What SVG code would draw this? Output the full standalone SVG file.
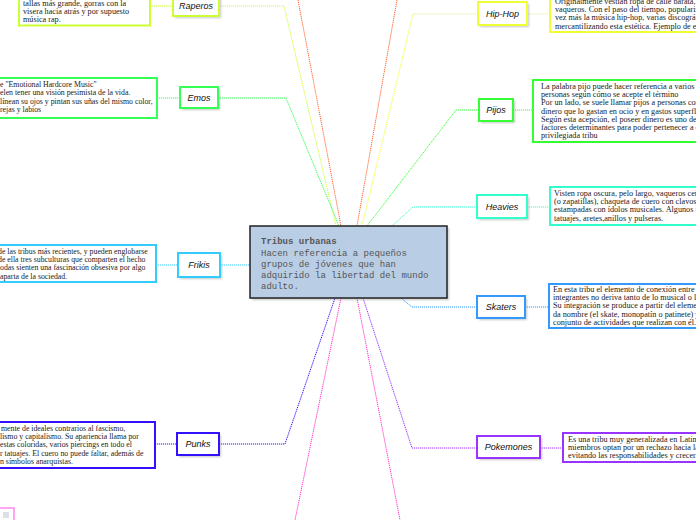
<svg xmlns="http://www.w3.org/2000/svg" width="696" height="520" viewBox="0 0 696 520">
<style>
.conn{fill:none;stroke-width:1;stroke-dasharray:1.2 0.8}
.node rect.b{fill:#fff;stroke-width:2}
.node text{font-family:"Liberation Sans",Arial,sans-serif;font-size:9px;font-style:italic;fill:#111;text-anchor:middle}
.desc rect{fill:#fff;stroke-width:2}
.desc text{font-family:"Liberation Serif","Times New Roman",serif;font-size:8.2px;fill:#222}
.desc.l text{font-size:7.8px}
.sh{fill:#9a9a9a;opacity:.55}
.mono{font-family:"Liberation Mono","Courier New",monospace;font-size:9px;fill:#555}
</style>
<defs>
<filter id="blur" x="-20%" y="-20%" width="140%" height="140%"><feGaussianBlur stdDeviation="1"/></filter>
</defs>
<rect width="696" height="520" fill="#fff"/>

<g id="connectors">
<polyline class="conn" stroke="#ccff33" points="150,6 173,6"/>
<polyline class="conn" stroke="#ccff33" points="219,6 284,6 336,226"/>
<polyline class="conn" stroke="#ff6633" points="298,0 341,226"/>
<polyline class="conn" stroke="#ff6633" points="397,0 357,226"/>
<polyline class="conn" stroke="#eeff33" points="527,14 550,14"/>
<polyline class="conn" stroke="#eeff33" points="478,14 413,14 362,226"/>
<polyline class="conn" stroke="#33ff55" points="157,98 180,98"/>
<polyline class="conn" stroke="#33ff55" points="218,98 286,98 339,226"/>
<polyline class="conn" stroke="#33ff33" points="513,110 533,110"/>
<polyline class="conn" stroke="#33ff33" points="479,110 456,110 367,226"/>
<polyline class="conn" stroke="#33ffcc" points="527,207 550,207"/>
<polyline class="conn" stroke="#33ffcc" points="477,207 413,207 392,226"/>
<polyline class="conn" stroke="#33ccff" points="156,265 178,265"/>
<polyline class="conn" stroke="#33ccff" points="220,265 250,265"/>
<polyline class="conn" stroke="#3399ff" points="525,307 549,307"/>
<polyline class="conn" stroke="#3399ff" points="477,307 412,307 401,298"/>
<polyline class="conn" stroke="#3311ff" points="155,444 177,444"/>
<polyline class="conn" stroke="#3311ff" points="219,444 285,444 335,298"/>
<polyline class="conn" stroke="#9933ff" points="540,448 563,448"/>
<polyline class="conn" stroke="#9933ff" points="477,448 412,448 363,298"/>
<polyline class="conn" stroke="#ff33cc" points="341,298 295,520"/>
<polyline class="conn" stroke="#ff33cc" points="357,298 400,520"/>
</g>

<g id="center">
<rect class="sh" x="252" y="228" width="197" height="72" filter="url(#blur)"/>
<rect x="250" y="226" width="197" height="72" fill="#b9cde5" stroke="#222" stroke-width="1.5"/>
<text class="mono" x="261" y="244" font-weight="bold" fill="#111">Tribus urbanas</text>
<text class="mono" x="261" y="256">Hacen referencia a pequeños</text>
<text class="mono" x="261" y="267">grupos de jóvenes que han</text>
<text class="mono" x="261" y="278">adquirido la libertad del mundo</text>
<text class="mono" x="261" y="289">adulto.</text>
</g>

<g id="raperos" class="node">
<rect class="sh" x="175" y="-3" width="46" height="21" filter="url(#blur)"/>
<rect class="b" x="173" y="-5" width="46" height="21" stroke="#ccff33"/>
<text x="196" y="9">Raperos</text>
</g>
<g id="raperos-desc" class="desc">
<rect x="19" y="-20" width="131" height="45.5" stroke="#ccff33"/>
<text x="23" y="5.5">tallas más grande, gorras con la</text>
<text x="23" y="13.8">visera hacia atrás y por supuesto</text>
<text x="23" y="22">música rap.</text>
</g>

<g id="hiphop" class="node">
<rect class="sh" x="480" y="4" width="49" height="23" filter="url(#blur)"/>
<rect class="b" x="478" y="2" width="49" height="23" stroke="#eeff33"/>
<text x="502.5" y="17">Hip-Hop</text>
</g>
<g id="hiphop-desc" class="desc">
<rect x="550" y="-20" width="160" height="52" stroke="#eeff33"/>
<text x="555" y="4">Originalmente vestían ropa de calle barata, pa</text>
<text x="555" y="12.2">vaqueros. Con el paso del tiempo, popularizár</text>
<text x="555" y="20.4">vez más la música hip-hop, varias discográfica</text>
<text x="555" y="28.6">mercantilizando esta estética. Ejemplo de ello</text>
</g>

<g id="emos" class="node">
<rect class="sh" x="182" y="89" width="38" height="21" filter="url(#blur)"/>
<rect class="b" x="180" y="87" width="38" height="21" stroke="#33ff55"/>
<text x="199" y="101">Emos</text>
</g>
<g id="emos-desc" class="desc l">
<rect x="-10" y="78" width="167" height="40" stroke="#33ff55"/>
<text x="0" y="87">e "Emotional Hardcore Music"</text>
<text x="0" y="95.3">elen tener una visión pesimista de la vida.</text>
<text x="0" y="103.6">línean su ojos y pintan sus uñas del mismo color,</text>
<text x="0" y="111.9">rejas y labios</text>
</g>

<g id="pijos" class="node">
<rect class="sh" x="481" y="101" width="34" height="22" filter="url(#blur)"/>
<rect class="b" x="479" y="99" width="34" height="22" stroke="#33ff33"/>
<text x="496" y="113">Pijos</text>
</g>
<g id="pijos-desc" class="desc">
<rect x="533" y="80" width="180" height="62" stroke="#33ff33"/>
<text x="541" y="89">La palabra pijo puede hacer referencia  a  varios ti</text>
<text x="541" y="97.2">personas según cómo se acepte el término</text>
<text x="541" y="105.4">Por un lado, se suele llamar pijos a  personas con m</text>
<text x="541" y="113.6">dinero que lo gastan en ocio y en gastos superfluos</text>
<text x="541" y="121.8">Según esta acepción, el poseer dinero es uno de los</text>
<text x="541" y="130">factores determinantes para poder pertenecer a esa</text>
<text x="541" y="138.2">privilegiada tribu</text>
</g>

<g id="heavies" class="node">
<rect class="sh" x="479" y="197" width="50" height="23" filter="url(#blur)"/>
<rect class="b" x="477" y="195" width="50" height="23" stroke="#33ffcc"/>
<text x="502" y="210">Heavies</text>
</g>
<g id="heavies-desc" class="desc">
<rect x="550" y="187" width="160" height="38" stroke="#33ffcc"/>
<text x="554" y="196" font-size="8">Visten ropa oscura, pelo largo, vaqueros ceñid</text>
<text x="554" y="204.2" font-size="8">(o zapatillas), chaqueta de cuero con clavos y c</text>
<text x="554" y="212.4" font-size="8">estampadas con ídolos musicales. Algunos tie</text>
<text x="554" y="220.6" font-size="8">tatuajes, aretes,anillos y pulseras.</text>
</g>

<g id="frikis" class="node">
<rect class="sh" x="180" y="255" width="42" height="24" filter="url(#blur)"/>
<rect class="b" x="178" y="253" width="42" height="24" stroke="#33ccff"/>
<text x="199" y="268">Frikis</text>
</g>
<g id="frikis-desc" class="desc l">
<rect x="-10" y="245" width="166" height="37" stroke="#33ccff"/>
<text x="-2" y="254">de las tribus más recientes, y pueden englobarse</text>
<text x="-2" y="262.2">de ella tres subculturas que comparten el hecho</text>
<text x="0" y="270.4">odas sienten una fascinación obsesiva por algo</text>
<text x="0" y="278.6">aparta de la sociedad.</text>
</g>

<g id="skaters" class="node">
<rect class="sh" x="479" y="298" width="48" height="22" filter="url(#blur)"/>
<rect class="b" x="477" y="296" width="48" height="22" stroke="#3399ff"/>
<text x="501" y="310">Skaters</text>
</g>
<g id="skaters-desc" class="desc">
<rect x="549" y="284" width="160" height="44" stroke="#3399ff"/>
<text x="553" y="292">En esta tribu el  elemento de conexión entre su</text>
<text x="553" y="300.2">integrantes no deriva tanto de lo musical o lo e</text>
<text x="553" y="308.4">Su integración se produce a partir del elemento</text>
<text x="553" y="316.6">da nombre (el skate, monopatín o patinete) y t</text>
<text x="553" y="324.8">conjunto de actividades que realizan con él.</text>
</g>

<g id="punks" class="node">
<rect class="sh" x="179" y="435" width="42" height="22" filter="url(#blur)"/>
<rect class="b" x="177" y="433" width="42" height="22" stroke="#3311ff"/>
<text x="198" y="447">Punks</text>
</g>
<g id="punks-desc" class="desc l">
<rect x="-10" y="422" width="165" height="46" stroke="#3311ff"/>
<text x="1" y="431">mente de ideales contrarios al fascismo,</text>
<text x="0" y="439.2">lismo y capitalismo. Su apariencia llama por</text>
<text x="0" y="447.4">estas coloridas, varios piercings en todo el</text>
<text x="0" y="455.6">r tatuajes. El cuero no puede faltar, además de</text>
<text x="0" y="463.8">n símbolos anarquistas.</text>
</g>

<g id="pokemones" class="node">
<rect class="sh" x="479" y="438" width="63" height="22" filter="url(#blur)"/>
<rect class="b" x="477" y="436" width="63" height="22" stroke="#9933ff"/>
<text x="508.5" y="450">Pokemones</text>
</g>
<g id="pokemones-desc" class="desc">
<rect x="563" y="433" width="150" height="29" stroke="#9933ff"/>
<text x="568" y="441.5">Es una tribu muy generalizada en Latinoa</text>
<text x="568" y="449.7">miembros optan por un rechazo hacia la m</text>
<text x="568" y="457.9">evitando las responsabilidades y crecer.</text>
</g>

<g id="bottom-node">
<rect x="-5" y="508" width="19" height="20" fill="#fff" stroke="#ff88ee" stroke-width="1.5"/>
<rect x="3" y="512" width="6" height="6" fill="#dde0e8"/>
</g>
</svg>
